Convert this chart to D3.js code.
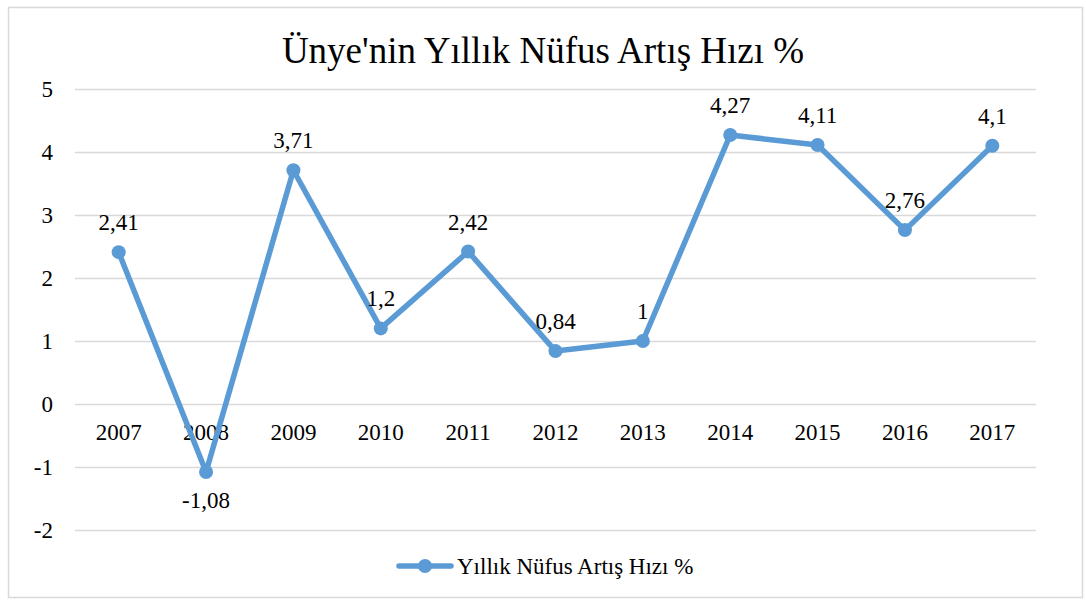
<!DOCTYPE html>
<html><head><meta charset="utf-8">
<script src="https://cdn.jsdelivr.net/npm/d3@7"></script>
<style>body{margin:0;background:#fff}svg{display:block}text{font-family:"Liberation Serif","Times New Roman",serif;fill:#000}</style>
</head><body><svg id="c" width="1086" height="604"></svg>
<script>
const years = ["2007","2008","2009","2010","2011","2012","2013","2014","2015","2016","2017"];
const values = [2.41,-1.08,3.71,1.2,2.42,0.84,1,4.27,4.11,2.76,4.1];
const labels = ["2,41","-1,08","3,71","1,2","2,42","0,84","1","4,27","4,11","2,76","4,1"];
const yTicks = [-2,-1,0,1,2,3,4,5];
const title = "Ünye'nin Yıllık Nüfus Artış Hızı %";
const seriesName = "Yıllık Nüfus Artış Hızı %";
const color = "#5b9bd5";
const FS = 23;

const svg = d3.select("#c");
svg.append("rect").attr("x",8.5).attr("y",7.5).attr("width",1074).attr("height",590)
  .attr("fill","#fff").attr("stroke","#d9d9d9").attr("stroke-width",1.5);

const x = d3.scaleBand().domain(years).range([75,1036]);
const y = d3.scaleLinear().domain([-2,5]).range([530,89]);

svg.append("text").attr("x",543).attr("y",63).attr("text-anchor","middle")
  .attr("font-size",37).text(title);

const yAxis = svg.append("g").attr("transform","translate(75,0)")
  .call(d3.axisLeft(y).tickValues(yTicks).tickSize(-961).tickFormat(d=>String(d)));
yAxis.select(".domain").remove();
yAxis.selectAll("line").attr("stroke","#d9d9d9").attr("stroke-width",1.5);
yAxis.selectAll("text").attr("font-size",FS).attr("x",-22).attr("dy","0.33em")
  .style("font-family","'Liberation Serif',serif");

const xAxis = svg.append("g").attr("transform",`translate(0,${y(0)})`)
  .call(d3.axisBottom(x).tickSize(0).tickPadding(0));
xAxis.select(".domain").remove();
xAxis.selectAll("text").attr("font-size",FS).attr("y",36).attr("dy",null)
  .style("font-family","'Liberation Serif',serif");

const cx = d => x(d) + x.bandwidth()/2;
const line = d3.line().x((d,i)=>cx(years[i])).y(d=>y(d));
svg.append("path").datum(values).attr("d",line).attr("fill","none")
  .attr("stroke",color).attr("stroke-width",5.5).attr("stroke-linejoin","round");
svg.selectAll("circle.pt").data(values).enter().append("circle")
  .attr("cx",(d,i)=>cx(years[i])).attr("cy",d=>y(d)).attr("r",7).attr("fill",color);

svg.selectAll("text.lbl").data(values).enter().append("text")
  .attr("x",(d,i)=>cx(years[i]))
  .attr("y",(d,i)=> d<0 ? y(d)+36 : y(d)-22)
  .attr("text-anchor","middle").attr("font-size",FS)
  .text((d,i)=>labels[i]);

const lg = svg.append("g");
lg.append("line").attr("x1",399).attr("x2",451).attr("y1",566).attr("y2",566)
  .attr("stroke",color).attr("stroke-width",5.5).attr("stroke-linecap","round");
lg.append("circle").attr("cx",425).attr("cy",566).attr("r",7).attr("fill",color);
lg.append("text").attr("x",457).attr("y",574).attr("font-size",FS).text(seriesName);
</script></body></html>
